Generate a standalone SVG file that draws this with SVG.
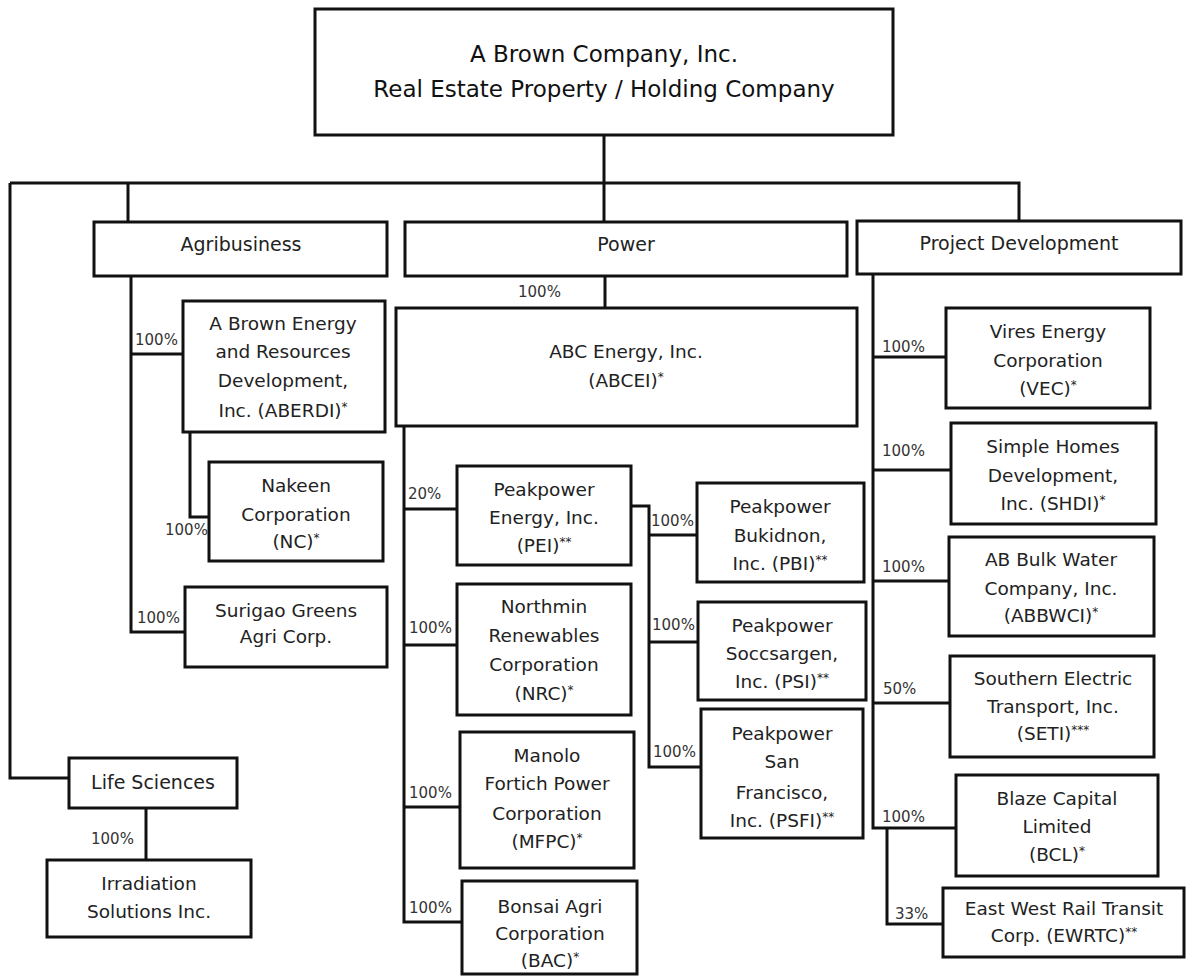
<svg xmlns="http://www.w3.org/2000/svg" width="1187" height="976" viewBox="0 0 1187 976">
<style>
.box{fill:#fff;stroke:#111;stroke-width:3}
.ln{fill:none;stroke:#111;stroke-width:3}
.t{font-family:"DejaVu Sans","Liberation Sans",sans-serif;font-size:18.5px;fill:#222;text-anchor:middle}
.cat{font-size:19px}
.title{font-size:23px;fill:#111}
.pct{font-family:"DejaVu Sans","Liberation Sans",sans-serif;font-size:15px;fill:#333}
.sup{font-size:12px}
</style>
<rect width="1187" height="976" fill="#fff"/>
<g id="connectors">
<path class="ln" d="M604,135 V222"/>
<path class="ln" d="M10,183 H1019 V222"/>
<path class="ln" d="M128,183 V222"/>
<path class="ln" d="M10,183 V778 H69"/>
<path class="ln" d="M131,276 V632 H185"/>
<path class="ln" d="M131,354 H183"/>
<path class="ln" d="M190,432 V517 H209"/>
<path class="ln" d="M605,276 V308"/>
<path class="ln" d="M404,426 V922 H462"/>
<path class="ln" d="M404,509 H457"/>
<path class="ln" d="M404,645 H457"/>
<path class="ln" d="M404,807 H460"/>
<path class="ln" d="M631,506 H649 V767 H701"/>
<path class="ln" d="M649,535 H697"/>
<path class="ln" d="M649,642 H698"/>
<path class="ln" d="M146,808 V860"/>
<path class="ln" d="M873,274 V828 H956"/>
<path class="ln" d="M873,357 H946"/>
<path class="ln" d="M873,470 H951"/>
<path class="ln" d="M873,581 H949"/>
<path class="ln" d="M873,703 H950"/>
<path class="ln" d="M887,828 V924 H943"/>
</g>
<g id="labels">
<text class="pct" x="518" y="297">100%</text>
<text class="pct" x="135" y="345">100%</text>
<text class="pct" x="165" y="535">100%</text>
<text class="pct" x="137" y="623">100%</text>
<text class="pct" x="91" y="844">100%</text>
<text class="pct" x="408" y="499">20%</text>
<text class="pct" x="409" y="633">100%</text>
<text class="pct" x="409" y="798">100%</text>
<text class="pct" x="409" y="913">100%</text>
<text class="pct" x="651" y="526">100%</text>
<text class="pct" x="652" y="630">100%</text>
<text class="pct" x="653" y="757">100%</text>
<text class="pct" x="882" y="352">100%</text>
<text class="pct" x="882" y="456">100%</text>
<text class="pct" x="882" y="572">100%</text>
<text class="pct" x="883" y="694">50%</text>
<text class="pct" x="882" y="822">100%</text>
<text class="pct" x="895" y="919">33%</text>
</g>
<g id="n-abc">
<rect class="box" x="315" y="9" width="578" height="126"/>
<text class="t title"><tspan x="604" y="62">A Brown Company, Inc.</tspan><tspan x="604" y="97">Real Estate Property / Holding Company</tspan></text>
</g>
<g id="n-agri">
<rect class="box" x="94" y="222" width="293" height="54"/>
<text class="t cat" x="241" y="251">Agribusiness</text>
</g>
<g id="n-power">
<rect class="box" x="405" y="222" width="442" height="54"/>
<text class="t cat" x="626" y="251">Power</text>
</g>
<g id="n-pd">
<rect class="box" x="857" y="221" width="324" height="53"/>
<text class="t cat" x="1019" y="250">Project Development</text>
</g>
<g id="n-aberdi">
<rect class="box" x="183" y="301" width="202" height="131"/>
<text class="t"><tspan x="283" y="330">A Brown Energy</tspan><tspan x="283" y="358">and Resources</tspan><tspan x="283" y="387">Development,</tspan><tspan x="283" y="417">Inc. (ABERDI)<tspan class="sup" dy="-6">*</tspan></tspan></text>
</g>
<g id="n-nakeen">
<rect class="box" x="209" y="462" width="174" height="99"/>
<text class="t"><tspan x="296" y="492">Nakeen</tspan><tspan x="296" y="521">Corporation</tspan><tspan x="296" y="548">(NC)<tspan class="sup" dy="-6">*</tspan></tspan></text>
</g>
<g id="n-surigao">
<rect class="box" x="185" y="587" width="202" height="80"/>
<text class="t"><tspan x="286" y="617">Surigao Greens</tspan><tspan x="286" y="643">Agri Corp.</tspan></text>
</g>
<g id="n-life">
<rect class="box" x="69" y="758" width="168" height="50"/>
<text class="t cat" x="153" y="789">Life Sciences</text>
</g>
<g id="n-irradiation">
<rect class="box" x="47" y="860" width="204" height="77"/>
<text class="t"><tspan x="149" y="890">Irradiation</tspan><tspan x="149" y="918">Solutions Inc.</tspan></text>
</g>
<g id="n-abcei">
<rect class="box" x="396" y="308" width="461" height="118"/>
<text class="t"><tspan x="626" y="358">ABC Energy, Inc.</tspan><tspan x="626" y="387">(ABCEI)<tspan class="sup" dy="-6">*</tspan></tspan></text>
</g>
<g id="n-pei">
<rect class="box" x="457" y="466" width="174" height="99"/>
<text class="t"><tspan x="544" y="496">Peakpower</tspan><tspan x="544" y="524">Energy, Inc.</tspan><tspan x="544" y="552">(PEI)<tspan class="sup" dy="-6">**</tspan></tspan></text>
</g>
<g id="n-nrc">
<rect class="box" x="457" y="584" width="174" height="131"/>
<text class="t"><tspan x="544" y="613">Northmin</tspan><tspan x="544" y="642">Renewables</tspan><tspan x="544" y="671">Corporation</tspan><tspan x="544" y="700">(NRC)<tspan class="sup" dy="-6">*</tspan></tspan></text>
</g>
<g id="n-mfpc">
<rect class="box" x="460" y="732" width="174" height="136"/>
<text class="t"><tspan x="547" y="762">Manolo</tspan><tspan x="547" y="790">Fortich Power</tspan><tspan x="547" y="820">Corporation</tspan><tspan x="547" y="848">(MFPC)<tspan class="sup" dy="-6">*</tspan></tspan></text>
</g>
<g id="n-bac">
<rect class="box" x="462" y="881" width="175" height="93"/>
<text class="t"><tspan x="550" y="913">Bonsai Agri</tspan><tspan x="550" y="940">Corporation</tspan><tspan x="550" y="967">(BAC)<tspan class="sup" dy="-6">*</tspan></tspan></text>
</g>
<g id="n-pbi">
<rect class="box" x="697" y="483" width="167" height="99"/>
<text class="t"><tspan x="780" y="513">Peakpower</tspan><tspan x="780" y="542">Bukidnon,</tspan><tspan x="780" y="570">Inc. (PBI)<tspan class="sup" dy="-6">**</tspan></tspan></text>
</g>
<g id="n-psi">
<rect class="box" x="698" y="602" width="168" height="98"/>
<text class="t"><tspan x="782" y="632">Peakpower</tspan><tspan x="782" y="660">Soccsargen,</tspan><tspan x="782" y="688">Inc. (PSI)<tspan class="sup" dy="-6">**</tspan></tspan></text>
</g>
<g id="n-psfi">
<rect class="box" x="701" y="709" width="162" height="129"/>
<text class="t"><tspan x="782" y="740">Peakpower</tspan><tspan x="782" y="768">San</tspan><tspan x="782" y="799">Francisco,</tspan><tspan x="782" y="827">Inc. (PSFI)<tspan class="sup" dy="-6">**</tspan></tspan></text>
</g>
<g id="n-vec">
<rect class="box" x="946" y="308" width="204" height="100"/>
<text class="t"><tspan x="1048" y="338">Vires Energy</tspan><tspan x="1048" y="367">Corporation</tspan><tspan x="1048" y="395">(VEC)<tspan class="sup" dy="-6">*</tspan></tspan></text>
</g>
<g id="n-shdi">
<rect class="box" x="951" y="423" width="205" height="101"/>
<text class="t"><tspan x="1053" y="453">Simple Homes</tspan><tspan x="1053" y="482">Development,</tspan><tspan x="1053" y="510">Inc. (SHDI)<tspan class="sup" dy="-6">*</tspan></tspan></text>
</g>
<g id="n-abbwci">
<rect class="box" x="949" y="537" width="205" height="99"/>
<text class="t"><tspan x="1051" y="566">AB Bulk Water</tspan><tspan x="1051" y="595">Company, Inc.</tspan><tspan x="1051" y="622">(ABBWCI)<tspan class="sup" dy="-6">*</tspan></tspan></text>
</g>
<g id="n-seti">
<rect class="box" x="950" y="656" width="204" height="101"/>
<text class="t"><tspan x="1053" y="685">Southern Electric</tspan><tspan x="1053" y="713">Transport, Inc.</tspan><tspan x="1053" y="740">(SETI)<tspan class="sup" dy="-6">***</tspan></tspan></text>
</g>
<g id="n-bcl">
<rect class="box" x="956" y="775" width="202" height="101"/>
<text class="t"><tspan x="1057" y="805">Blaze Capital</tspan><tspan x="1057" y="833">Limited</tspan><tspan x="1057" y="861">(BCL)<tspan class="sup" dy="-6">*</tspan></tspan></text>
</g>
<g id="n-ewrtc">
<rect class="box" x="943" y="888" width="241" height="69"/>
<text class="t"><tspan x="1064" y="915">East West Rail Transit</tspan><tspan x="1064" y="942">Corp. (EWRTC)<tspan class="sup" dy="-6">**</tspan></tspan></text>
</g>
</svg>
